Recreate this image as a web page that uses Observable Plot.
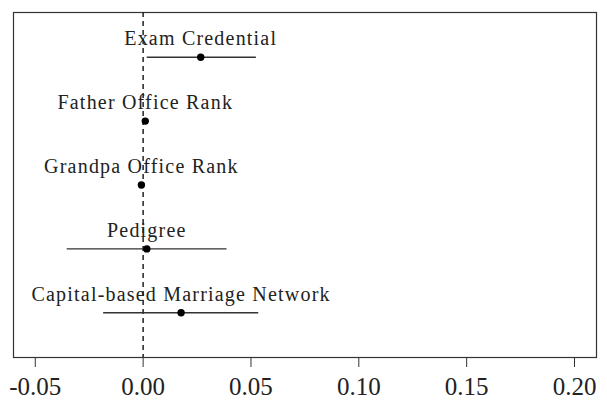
<!DOCTYPE html>
<html>
<head>
<meta charset="utf-8">
<script src="https://cdn.jsdelivr.net/npm/d3@7"></script>
<script src="https://cdn.jsdelivr.net/npm/@observablehq/plot@0.6"></script>
<style>
  body { margin: 0; background: #fff; }
</style>
</head>
<body>
<div id="chart"></div>
<script>
const labels = ["Exam Credential", "Father Office Rank", "Grandpa Office Rank", "Pedigree", "Capital-based Marriage Network"];
const positions = [5, 4, 3, 2, 1];
const estimates = [0.0267, 0.0010, -0.0008, 0.0017, 0.0176];
const lower = [0.0019, 0.0002, -0.0016, -0.0352, -0.0183];
const upper = [0.0525, 0.0018, 0.0000, 0.0389, 0.0536];
const xTicks = [-0.05, 0, 0.05, 0.10, 0.15, 0.20];

const data = labels.map((label, i) => ({
  label, pos: positions[i], est: estimates[i], lo: lower[i], hi: upper[i]
}));

const chart = Plot.plot({
  width: 607,
  height: 412,
  marginLeft: 13,
  marginRight: 11,
  marginTop: 12,
  marginBottom: 55,
  style: { background: "#fff", color: "#222" },
  x: { domain: [-0.0601, 0.2102] },
  y: { domain: [0.3, 5.7], axis: null },
  marks: [
    Plot.frame({ stroke: "#333", strokeWidth: 1.2 }),
    Plot.ruleX([0], { stroke: "#222", strokeDasharray: "5,4", strokeWidth: 1.5 }),
    Plot.ruleY(data, { x1: "lo", x2: "hi", y: "pos", stroke: "#333", strokeWidth: 1.4 }),
    Plot.dot(data, { x: "est", y: "pos", r: 3.7, fill: "#000", stroke: "none" }),
    Plot.text(data, {
      x: "est", y: "pos", text: "label", dy: -12, lineAnchor: "bottom",
      fontFamily: "Liberation Serif", fontSize: 20, fill: "#222"
    }),
    Plot.axisX({
      ticks: xTicks, tickFormat: d => d.toFixed(2), tickSize: 10, tickPadding: 10,
      fontFamily: "Liberation Serif", fontSize: 25, stroke: "#333", fill: "#222"
    })
  ]
});
d3.select(chart).selectAll('g[aria-label="text"] text')
  .style("letter-spacing", "1.2px");
document.getElementById("chart").appendChild(chart);
</script>
</body>
</html>
